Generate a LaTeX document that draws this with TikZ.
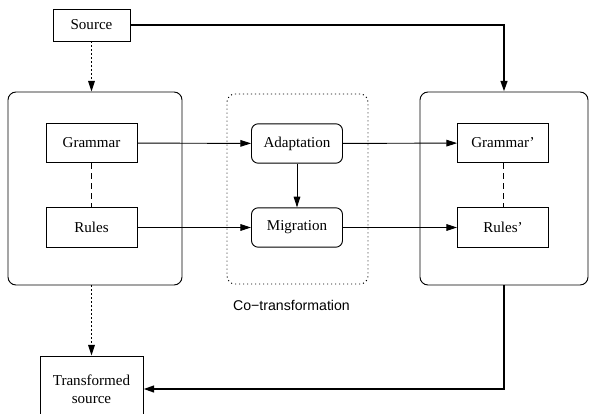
\documentclass[tikz,border=0pt]{standalone}
\usepackage{fontspec}
\setmainfont{Liberation Serif}
\newfontfamily\labelfont{Liberation Sans}
\usetikzlibrary{arrows.meta}
\def\boxfont{\fontsize{11.3}{13.5}\selectfont}

\begin{document}
\begin{tikzpicture}[x=0.75pt,y=-0.75pt,line width=0.7pt,>={Triangle[length=8pt,width=5pt]}]
  \tikzstyle{item}=[draw,font=\boxfont,minimum width=68.25pt,minimum height=29.5pt,inner sep=0pt]
  \tikzstyle{stage}=[item,rounded corners=5pt]
  \tikzstyle{frame}=[draw,rounded corners=6pt,minimum height=144.75pt,inner sep=0pt]
  \tikzstyle{flow}=[->,dash pattern=on 0.8pt off 2.2pt]
  \tikzstyle{link}=[dash pattern=on 4.5pt off 3pt]
  \tikzstyle{main}=[->,line width=1.6pt]

  \useasboundingbox (0,0) rectangle (589,414);

  % the three frames
  \node[frame,minimum width=130.5pt] (G) at (95,188.5) {};
  \node[frame,dash pattern=on 0.8pt off 2.2pt,minimum width=105.75pt,
        minimum height=142.5pt] (C) at (297.5,189) {};
  \node[frame,minimum width=126pt] (Gp) at (504,188.5) {};

  \node[item,minimum width=57.75pt,minimum height=24pt] (src) at (91.5,25) {Source};

  \node[item] (gram) at (91.5,143) {Grammar};
  \node[item] (rules) at (91.5,227.5) {Rules};

  \node[stage] (adapt) at (297,143.5) {Adaptation};
  \node[stage] (migr) at (297,227.5) {Migration};

  \node[item] (gramp) at (503,143) {Grammar'};
  \node[item] (rulesp) at (503,227.5) {Rules'};

  \node[item,align=center,minimum width=77.25pt,minimum height=49.5pt] (tsrc)
    at (91.5,389) {Transformed\\source};

  \node[font=\labelfont\fontsize{10.6}{12}\selectfont] (cotr) at (291.5,305) {Co−transformation};

  \draw[flow] (src) -- (src |- G.north);
  \draw[flow] (tsrc |- G.south) -- (tsrc);

  \draw[link] (gram) -- (rules);
  \draw[link] (gramp) -- (rulesp);

  \foreach \a/\b in {gram/adapt,rules/migr,adapt/gramp,migr/rulesp}
    \draw[->] (\a) -- (\b);
  \draw[->] (adapt) -- (migr);

  \draw[main] (src) -| (Gp);
  \draw[main] (Gp) |- (tsrc);
\end{tikzpicture}
\end{document}
